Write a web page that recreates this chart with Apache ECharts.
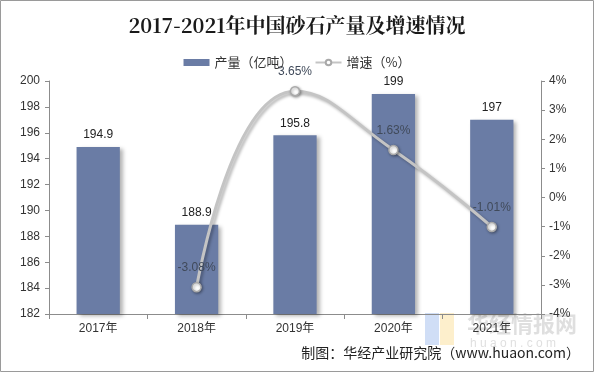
<!DOCTYPE html>
<html><head><meta charset="utf-8">
<script src="https://cdn.jsdelivr.net/npm/echarts@6/dist/echarts.min.js"></script>
<style>html,body{margin:0;padding:0;background:#fff}#c{width:594px;height:372px}</style>
</head><body><div id="c"></div>
<script>
var categories = ['2017年','2018年','2019年','2020年','2021年'];
var production = [194.9, 188.9, 195.8, 199, 197];
var growth = [null, -3.08, 3.65, 1.63, -1.01];
var leftTicks = {min:182, max:200, interval:2};
var rightTicks = {min:-4, max:4, interval:1};

var FONT = '"Liberation Sans", Arial, "Noto Sans CJK SC", sans-serif';
var chart = echarts.init(document.getElementById('c'));
chart.setOption({
  animation:false,
  backgroundColor:'#fff',
  textStyle:{fontFamily:FONT},
  title:{text:'2017-2021年中国砂石产量及增速情况', left:'center', top:10,
    textStyle:{fontFamily:'"Noto Serif CJK SC","DejaVu Serif","Noto Sans CJK SC",serif', fontSize:20, fontWeight:'bold', color:'#1a1a1a'}},
  legend:{top:51, left:'center', itemGap:22, itemWidth:26, itemHeight:7,
    textStyle:{fontFamily:'"Noto Sans CJK SC",sans-serif', fontSize:13, color:'#333'},
    data:[{name:'产量（亿吨）', icon:'rect', itemStyle:{color:'#6A7CA5'}},
          {name:'增速（%）'}]},
  grid:{left:49, right:53, top:81, bottom:58},
  xAxis:{type:'category', data:categories,
    axisLine:{onZero:false, lineStyle:{color:'#8c8c8c'}},
    axisTick:{show:true, alignWithLabel:false, length:5, lineStyle:{color:'#8c8c8c'}},
    axisLabel:{color:'#333', fontSize:12, margin:9, fontFamily:FONT}},
  yAxis:[
    {type:'value', min:leftTicks.min, max:leftTicks.max, interval:leftTicks.interval,
      splitLine:{show:false},
      axisLine:{show:true, lineStyle:{color:'#8c8c8c'}},
      axisTick:{show:true, length:4, lineStyle:{color:'#8c8c8c'}},
      axisLabel:{color:'#333', fontSize:12, margin:9}},
    {type:'value', min:rightTicks.min, max:rightTicks.max, interval:rightTicks.interval,
      splitLine:{show:false},
      axisLine:{show:true, lineStyle:{color:'#8c8c8c'}},
      axisTick:{show:true, length:4, lineStyle:{color:'#8c8c8c'}},
      axisLabel:{color:'#333', fontSize:12, margin:8, formatter:'{value}%'}}
  ],
  series:[
    {name:'产量（亿吨）', type:'bar', data:production, barWidth:'44%',
      itemStyle:{color:'#6A7CA5', shadowColor:'rgba(0,0,0,0.3)', shadowBlur:4, shadowOffsetX:3, shadowOffsetY:2},
      label:{show:true, position:'top', distance:6, color:'#222', fontSize:12}},
    {name:'增速（%）', type:'line', yAxisIndex:1, data:growth, smooth:0.5,
      symbol:'circle', symbolSize:9, showSymbol:true,
      lineStyle:{color:'#C4C4C4', width:3, shadowColor:'rgba(0,0,0,0.3)', shadowBlur:3, shadowOffsetX:2, shadowOffsetY:2},
      itemStyle:{color:'#fff', borderColor:'#A9A9A9', borderWidth:1.5, shadowColor:'rgba(0,0,0,0.35)', shadowBlur:3, shadowOffsetX:1, shadowOffsetY:1},
      label:{show:true, position:'top', distance:8, color:'#404a5a', fontSize:12, formatter:function(p){return p.value.toFixed(2)+'%';}}}
  ],
  graphic:[
    {type:'rect', shape:{x:0.5,y:0.5,width:593,height:371}, style:{fill:'none', stroke:'#9a9a9a', lineWidth:1}, z:100},
    {type:'rect', shape:{x:425,y:313,width:14,height:32}, style:{fill:'rgba(120,160,230,0.35)'}, z:0},
    {type:'rect', shape:{x:440,y:313,width:14,height:32}, style:{fill:'rgba(250,210,110,0.35)'}, z:0},
    {type:'text', left:467, top:313, style:{text:'华经情报网', font:'bold 22px "Noto Sans CJK SC"', fill:'rgba(150,150,150,0.3)'}, z:0},
    {type:'text', left:470, top:338, style:{text:'h u a o n . c o m', font:'12px "Liberation Sans"', fill:'rgba(150,150,150,0.3)'}, z:0},
    {type:'text', right:14, top:346, style:{text:'制图：华经产业研究院（www.huaon.com）', font:'14px "Noto Sans CJK SC"', fill:'#222'}}
  ]
});
</script></body></html>
